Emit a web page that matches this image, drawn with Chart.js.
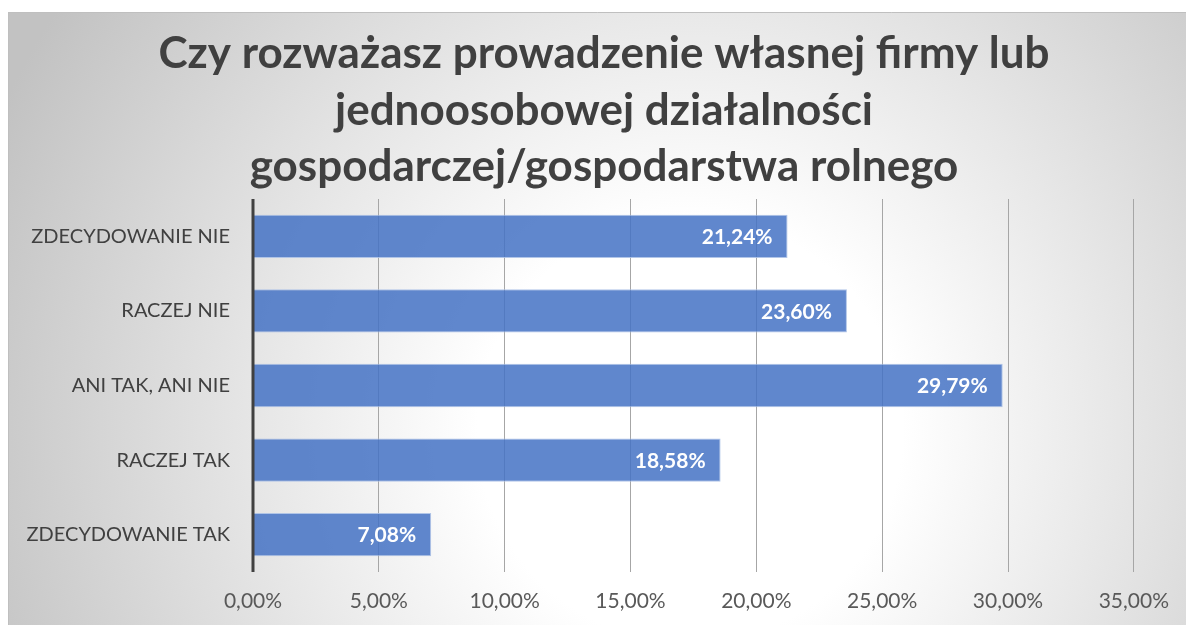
<!DOCTYPE html>
<html>
<head>
<meta charset="utf-8">
<script src="https://cdn.jsdelivr.net/npm/chart.js@4/dist/chart.umd.min.js"></script>
<style>
html,body{margin:0;padding:0;background:#fff;}
#wrap{width:1186px;height:625px;position:relative;}
</style>
</head>
<body>
<div id="wrap"><canvas id="c" width="1186" height="625"></canvas></div>
<script>
const titleLines = ["Czy rozważasz prowadzenie własnej firmy lub", "jednoosobowej działalności", "gospodarczej/gospodarstwa rolnego"];
const categories = ["ZDECYDOWANIE NIE", "RACZEJ NIE", "ANI TAK, ANI NIE", "RACZEJ TAK", "ZDECYDOWANIE TAK"];
const values = [21.24, 23.60, 29.79, 18.58, 7.08];
const tickMax = 35;
const tickStep = 5;

function pct(v){ return v.toFixed(2).replace('.', ',') + '%'; }

const bgPlugin = {
  id: 'bg',
  beforeDraw(chart){
    const ctx = chart.ctx;
    const x0 = 8, y0 = 12, x1 = chart.width, y1 = chart.height;
    ctx.save();
    const g = ctx.createRadialGradient(690, 430, 0, 690, 430, 760);
    g.addColorStop(0, '#ffffff');
    g.addColorStop(0.28, '#ffffff');
    g.addColorStop(1, '#c2c2c2');
    ctx.fillStyle = g;
    ctx.fillRect(x0, y0, x1 - x0, y1 - y0);
    ctx.strokeStyle = '#bfbfbf';
    ctx.lineWidth = 1;
    ctx.beginPath();
    ctx.moveTo(x0 + 0.5, y1);
    ctx.lineTo(x0 + 0.5, y0 + 0.5);
    ctx.lineTo(x1, y0 + 0.5);
    ctx.stroke();
    // title
    ctx.fillStyle = '#404040';
    ctx.font = 'bold 44px Lato, "Open Sans", sans-serif';
    ctx.textAlign = 'center';
    ctx.textBaseline = 'middle';
    const ys = [54, 111, 167];
    titleLines.forEach((t, i) => ctx.fillText(t, 604, ys[i]));
    ctx.restore();
  },
  afterDatasetsDraw(chart){
    const ctx = chart.ctx;
    const meta = chart.getDatasetMeta(0);
    ctx.save();
    ctx.fillStyle = '#ffffff';
    ctx.font = 'bold 21px Lato, "Open Sans", sans-serif';
    ctx.textAlign = 'right';
    ctx.textBaseline = 'middle';
    meta.data.forEach((bar, i) => {
      ctx.fillText(pct(values[i]), bar.x - 15, bar.y + 1);
    });
    // left axis line
    const a = chart.chartArea;
    ctx.strokeStyle = '#404040';
    ctx.lineWidth = 3;
    ctx.beginPath();
    ctx.moveTo(a.left, a.top);
    ctx.lineTo(a.left, a.bottom);
    ctx.stroke();
    ctx.restore();
  }
};

new Chart(document.getElementById('c'), {
  type: 'bar',
  data: {
    labels: categories,
    datasets: [{
      data: values,
      backgroundColor: 'rgba(68,114,196,0.85)',
      borderColor: 'rgba(170,192,230,0.9)',
      borderWidth: 1,
      categoryPercentage: 1,
      barPercentage: 0.58
    }]
  },
  options: {
    indexAxis: 'y',
    responsive: false,
    animation: false,
    layout: { padding: { left: 8, top: 199, right: 52, bottom: 0 } },
    plugins: { legend: { display: false }, tooltip: { enabled: false }, title: { display: false } },
    scales: {
      x: {
        min: 0, max: tickMax,
        ticks: { stepSize: tickStep, color: '#595959', font: { family: 'Lato, "Open Sans", sans-serif', size: 21 }, padding: 17, callback: v => pct(v) },
        grid: { color: '#a6a6a6', lineWidth: 1, drawTicks: false },
        border: { display: false },
        afterFit(s){ s.height = 53; }
      },
      y: {
        ticks: { color: '#404040', font: { family: 'Lato, "Open Sans", sans-serif', size: 20 }, padding: 23 },
        grid: { display: false, drawTicks: false },
        border: { display: false },
        afterFit(s){ s.width = 245; }
      }
    }
  },
  plugins: [bgPlugin]
});
</script>
</body>
</html>
